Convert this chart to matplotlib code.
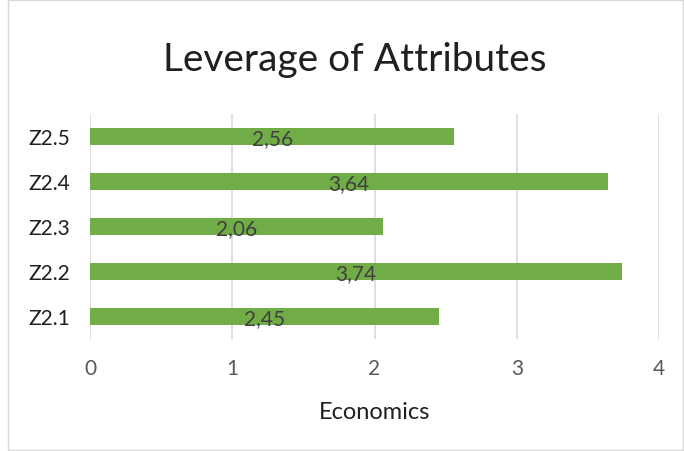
import matplotlib.pyplot as plt
from matplotlib.patches import Rectangle

# Data
categories = ["Z2.1", "Z2.2", "Z2.3", "Z2.4", "Z2.5"]
values = [2.45, 3.74, 2.06, 3.64, 2.56]
labels = ["2,45", "3,74", "2,06", "3,64", "2,56"]

plt.rcParams['font.family'] = ['Lato', 'DejaVu Sans']

fig = plt.figure(figsize=(6.84, 4.52), dpi=100)
ax = fig.add_axes([0.1316, 0.2478, 0.8319, 0.4978])

bars = ax.barh(range(len(categories)), values, height=0.38, color="#70AD47", zorder=3)
for i, (v, lab) in enumerate(zip(values, labels)):
    ax.text(v / 2, i - 0.03, lab, ha="center", va="center", fontsize=15, color="#404040", zorder=4)

ax.set_xlim(0, 4)
ax.set_ylim(-0.5, 4.5)
ax.set_xticks([0, 1, 2, 3, 4])
ax.set_yticks(range(len(categories)))
ax.set_yticklabels(categories)
ax.tick_params(axis="x", length=0, labelsize=15, labelcolor="#595959", pad=14)
ax.tick_params(axis="y", length=0, labelsize=15, labelcolor="#202020", pad=14)
ax.grid(axis="x", color="#D9D9D9", linewidth=1.2, zorder=0)
for s in ax.spines.values():
    s.set_visible(False)

ax.set_xlabel("Economics", fontsize=17, color="#202020", labelpad=16)
fig.text(0.518, 0.868, "Leverage of Attributes", ha="center", va="center", fontsize=28, color="#202020")

fig.patches.append(Rectangle((0.012, 0.003), 0.986, 0.994, transform=fig.transFigure,
                             fill=False, edgecolor="#D9D9D9", linewidth=1))

fig.savefig("out.png", dpi=100)
